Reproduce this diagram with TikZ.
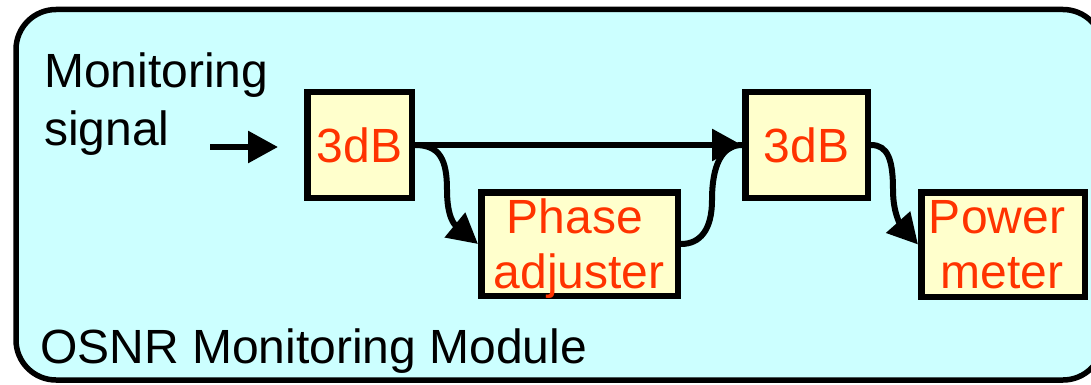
\documentclass[tikz,border=0pt]{standalone}
\usepackage{fontspec}
\setmainfont{Liberation Sans}
\usetikzlibrary{arrows.meta}
\definecolor{bgcyan}{HTML}{CCFFFF}
\definecolor{boxyellow}{HTML}{FFFFCC}
\definecolor{txtred}{HTML}{FF3300}
\begin{document}
\begin{tikzpicture}[x=1pt,y=-1pt,
  box/.style={draw=black,line width=6.5pt,fill=boxyellow,inner sep=0pt},
  btxt/.style={font=\fontsize{48}{55}\selectfont,text=txtred,inner sep=0pt,anchor=base},
  lbl/.style={font=\fontsize{48}{57}\selectfont,text=black,inner sep=0pt,anchor=base west},
  conn/.style={line width=6pt,draw=black,-{Triangle[length=30pt,width=31pt]}},
  plainconn/.style={line width=6pt,draw=black}]
\useasboundingbox (0,0) rectangle (1091,385);
\begin{scope}
  \clip (0,0) rectangle (1091,385);
  \draw[line width=5.5pt,fill=bgcyan,rounded corners=40pt] (16,9.5) rectangle (1103,380);
\end{scope}

% boxes
\node[box,minimum width=104.5pt,minimum height=105.5pt] (s1) at (359.5,145) {};
\node[box,minimum width=122.5pt,minimum height=105.5pt] (s2) at (806.5,145) {};
\node[box,minimum width=196.5pt,minimum height=103.5pt] (ph) at (579.5,244) {};
\node[box,minimum width=163.5pt,minimum height=104.5pt] (pm) at (1003,244.5) {};

% box texts
\node[btxt] (t1) at (359.5,162) {3dB};
\node[btxt] (t2) at (806.5,162) {3dB};
\node[btxt] (t3a) at (575,233) {Phase};
\node[btxt] (t3b) at (579,288) {adjuster};
\node[btxt] (t4a) at (997,233) {Power};
\node[btxt] (t4b) at (1002,288) {meter};

% labels
\node[lbl] (m1) at (44,88) {Monitoring};
\node[lbl] (m2) at (44,145) {signal};
\node[lbl] (os) at (40,363) {OSNR Monitoring Module};

% connectors
\coordinate (a0) at (210,147);
\coordinate (a1) at (278,147);
\draw[conn] (a0) -- (a1);
\draw[conn] (s1.east) -- (s2.west);

\coordinate (c1) at (447,190);
\draw[conn] (s1.east) .. controls +(25,0) and +(0,-30) .. (c1)
  .. controls +(0,28) and +(-23,-19) .. (ph.west);

\coordinate (c2) at (712,200);
\draw[plainconn] (ph.east) .. controls +(19,0) and +(0,30) .. (c2)
  .. controls +(0,-35) and +(-20,0) .. (s2.west);

\coordinate (c3) at (893,190);
\draw[conn] (s2.east) .. controls +(17,0) and +(0,-30) .. (c3)
  .. controls +(0,25) and +(-16,-18) .. (pm.west);
\end{tikzpicture}
\end{document}
